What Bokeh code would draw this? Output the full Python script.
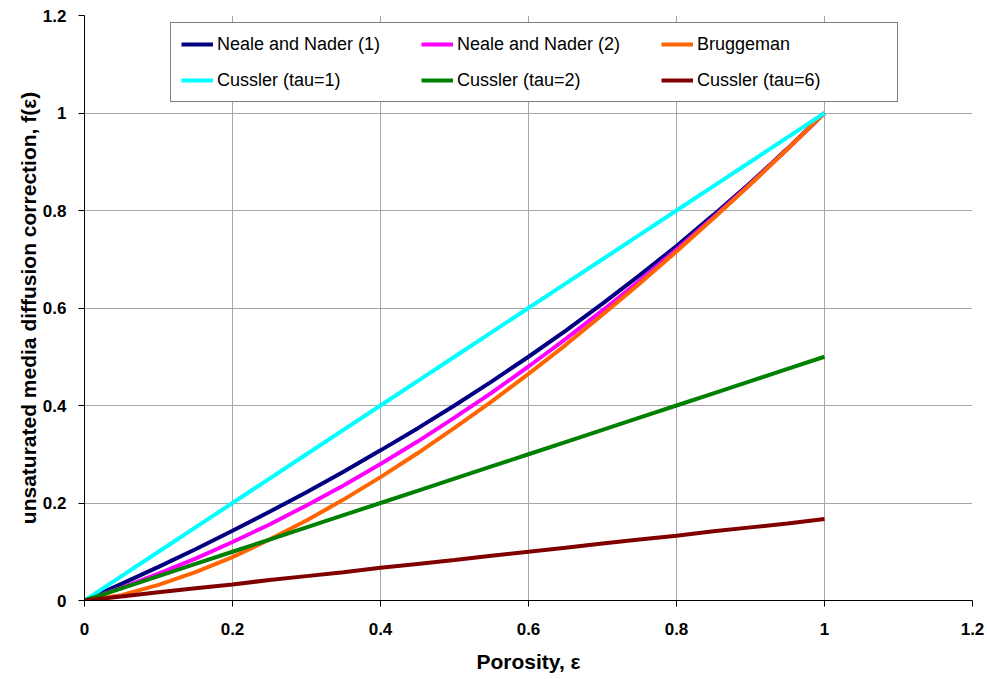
from bokeh.plotting import figure
from bokeh.models import Legend, LegendItem, FixedTicker, Range1d
from bokeh.embed import file_html
from bokeh.resources import INLINE

# Porosity grid and diffusion correction factors f(eps)
porosity = [0.0, 0.05, 0.1, 0.15, 0.2, 0.25, 0.3, 0.35, 0.4, 0.45, 0.5,
            0.55, 0.6, 0.65, 0.7, 0.75, 0.8, 0.85, 0.9, 0.95, 1.0]

neale_nader_1 = [0.0, 0.034, 0.069, 0.105, 0.143, 0.182, 0.222, 0.264, 0.308, 0.353, 0.400,
                 0.449, 0.500, 0.553, 0.609, 0.667, 0.727, 0.791, 0.857, 0.927, 1.000]
neale_nader_2 = [0.0, 0.026, 0.055, 0.086, 0.120, 0.156, 0.195, 0.236, 0.280, 0.326, 0.375,
                 0.426, 0.480, 0.536, 0.595, 0.656, 0.720, 0.786, 0.855, 0.926, 1.000]
bruggeman = [0.0, 0.011, 0.032, 0.058, 0.089, 0.125, 0.164, 0.207, 0.253, 0.302, 0.354,
             0.408, 0.465, 0.524, 0.586, 0.650, 0.716, 0.784, 0.854, 0.926, 1.000]
cussler_tau1 = [0.0, 0.05, 0.1, 0.15, 0.2, 0.25, 0.3, 0.35, 0.4, 0.45, 0.5,
                0.55, 0.6, 0.65, 0.7, 0.75, 0.8, 0.85, 0.9, 0.95, 1.0]
cussler_tau2 = [0.0, 0.025, 0.05, 0.075, 0.1, 0.125, 0.15, 0.175, 0.2, 0.225, 0.25,
                0.275, 0.3, 0.325, 0.35, 0.375, 0.4, 0.425, 0.45, 0.475, 0.5]
cussler_tau6 = [0.0, 0.008, 0.017, 0.025, 0.033, 0.042, 0.05, 0.058, 0.067, 0.075, 0.083,
                0.092, 0.1, 0.108, 0.117, 0.125, 0.133, 0.142, 0.15, 0.158, 0.167]

series_names = ["Neale and Nader (1)", "Neale and Nader (2)", "Bruggeman",
                "Cussler (tau=1)", "Cussler (tau=2)", "Cussler (tau=6)"]
series_values = [neale_nader_1, neale_nader_2, bruggeman,
                 cussler_tau1, cussler_tau2, cussler_tau6]
series_colors = ["#000080", "#FF00FF", "#FF6600", "#00FFFF", "#008000", "#800000"]

tick_values = [0, 0.2, 0.4, 0.6, 0.8, 1.0, 1.2]
tick_labels = {0: "0", 0.2: "0.2", 0.4: "0.4", 0.6: "0.6", 0.8: "0.8", 1.0: "1", 1.2: "1.2"}

FONT = "Liberation Sans"

p = figure(width=987, height=679, output_backend="svg", toolbar_location=None,
           x_range=Range1d(0, 1.2), y_range=Range1d(0, 1.2),
           min_border_left=84, min_border_right=15, min_border_top=15, min_border_bottom=79)
p.outline_line_color = None
p.background_fill_color = "white"
p.border_fill_color = "white"

for ax in (p.xaxis[0], p.yaxis[0]):
    ax.ticker = FixedTicker(ticks=tick_values)
    ax.major_label_overrides = tick_labels
    ax.minor_tick_line_color = None
    ax.major_tick_in = 0
    ax.major_tick_out = 6
    ax.axis_line_color = "black"
    ax.axis_line_width = 1
    ax.major_tick_line_color = "black"
    ax.major_label_text_font = FONT
    ax.major_label_text_font_style = "bold"
    ax.major_label_text_font_size = "17px"
    ax.major_label_text_color = "black"
    ax.axis_label_text_font = FONT
    ax.axis_label_text_font_style = "bold"
    ax.axis_label_text_font_size = "21px"
    ax.axis_label_text_color = "black"

p.xaxis.axis_label = "Porosity, ε"
p.yaxis.axis_label = "unsaturated media diffusion correction, f(ε)"
p.xaxis.major_label_standoff = 16
p.yaxis.major_label_standoff = 12
p.xaxis.axis_label_standoff = 12
p.yaxis.axis_label_standoff = 0

p.grid.ticker = FixedTicker(ticks=tick_values)
p.grid.grid_line_color = "#A6A6A6"
p.grid.grid_line_width = 1

items = []
for name, vals, col in zip(series_names, series_values, series_colors):
    r = p.line(porosity, vals, line_color=col, line_width=4)
    items.append(LegendItem(label=name, renderers=[r]))

legend = Legend(items=items, orientation="horizontal", ncols=3,
                location=(86, 498),
                glyph_width=32, glyph_height=22, label_height=22,
                label_standoff=4, label_width=190, spacing=14, padding=10,
                label_text_font=FONT, label_text_font_size="18px",
                label_text_color="black",
                border_line_color="black", border_line_width=1,
                background_fill_color="white", background_fill_alpha=1.0)
p.add_layout(legend, "center")

open("out.html", "w").write(file_html(p, INLINE))
